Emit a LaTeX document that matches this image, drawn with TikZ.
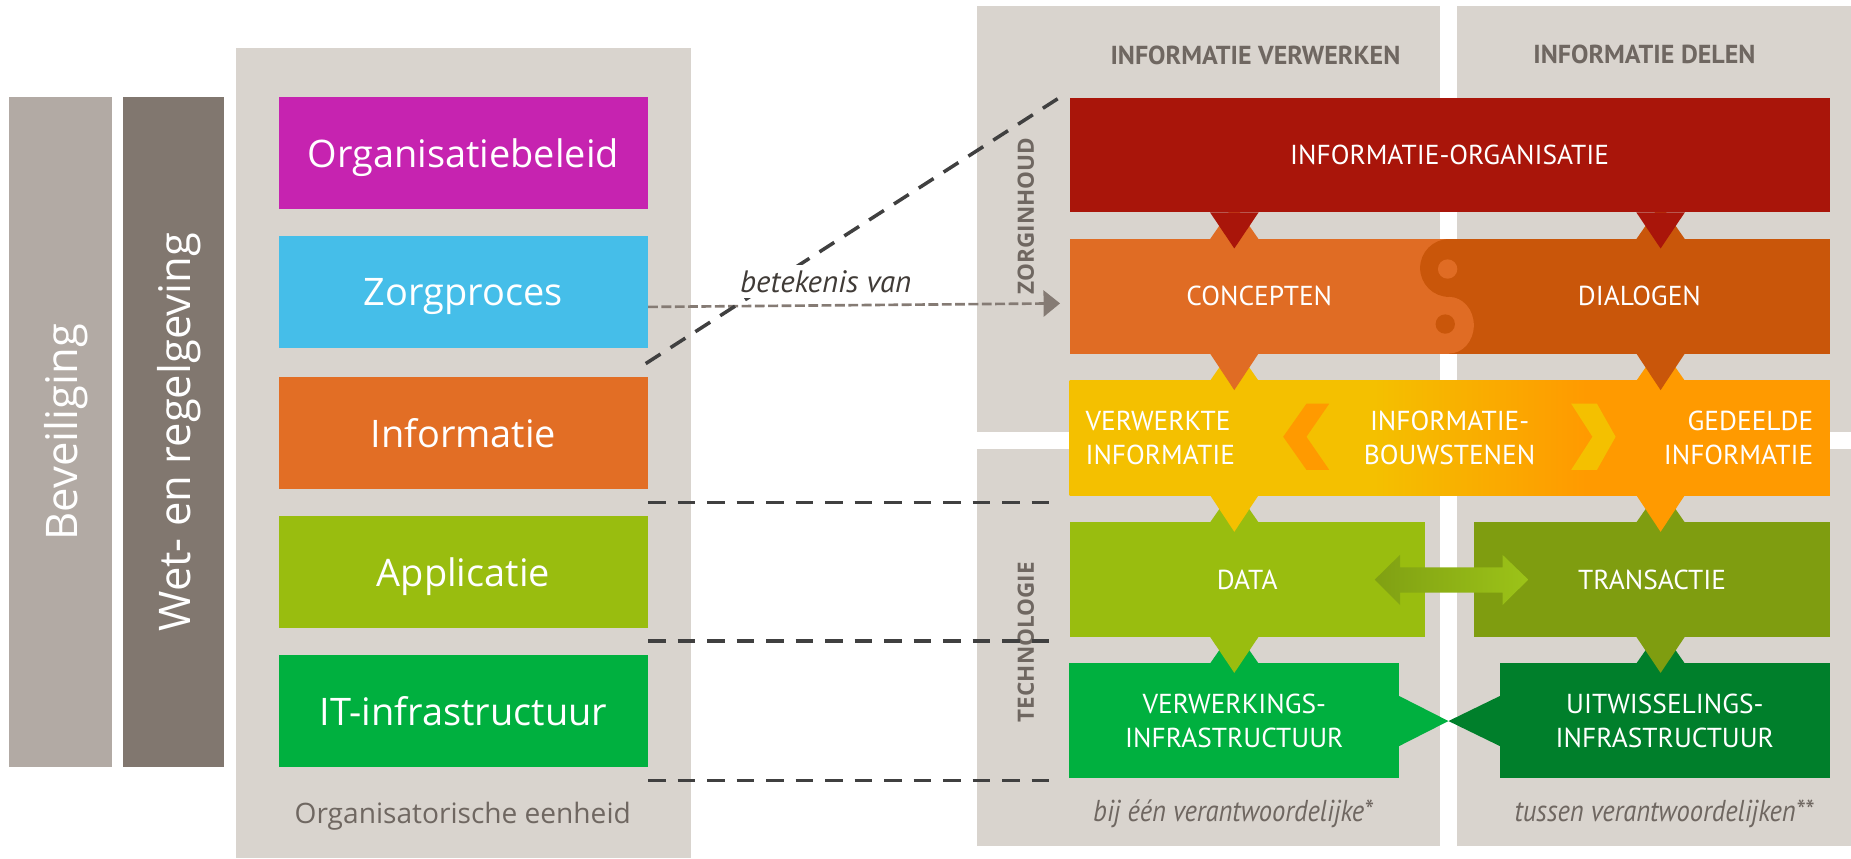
\documentclass[tikz,border=0pt]{standalone}
\usepackage{fontspec}
\setmainfont{Open Sans}
\newfontfamily\narrowfont{PT Sans}
\newfontfamily\narrowitfont{PT Sans}[FakeStretch=0.88]
\usetikzlibrary{positioning}
\usetikzlibrary{arrows.meta}
\usetikzlibrary{calc}

\definecolor{panelgray}{HTML}{D9D4CE}
\definecolor{barlight}{HTML}{B2AAA4}
\definecolor{bardark}{HTML}{81776F}
\definecolor{textgray}{HTML}{6F6761}
\definecolor{notegray}{HTML}{403B37}
\definecolor{beleidcol}{HTML}{C623B0}
\definecolor{procescol}{HTML}{45BEE9}
\definecolor{infocol}{HTML}{E26E25}
\definecolor{appcol}{HTML}{99BD0F}
\definecolor{infracol}{HTML}{00B03F}
\definecolor{redcol}{HTML}{A9150A}
\definecolor{orangeA}{HTML}{E06C24}
\definecolor{orangeB}{HTML}{C9560A}
\definecolor{yellowA}{HTML}{F4C000}
\definecolor{yellowB}{HTML}{FF9A00}
\definecolor{oliveA}{HTML}{99BD0F}
\definecolor{oliveB}{HTML}{7F9D10}
\definecolor{arrowA}{HTML}{80A013}
\definecolor{arrowB}{HTML}{9CC318}
\definecolor{greenA}{HTML}{00B03F}
\definecolor{greenB}{HTML}{007F2B}
\definecolor{dashcol}{HTML}{404040}
\definecolor{linkgray}{HTML}{857B74}

\pgfdeclarehorizontalshading{bouwshade}{100bp}{color(0bp)=(yellowA); color(45bp)=(yellowA); color(59bp)=(yellowB); color(100bp)=(yellowB)}

\newcommand{\pxl}{0.011805cm}
\tikzstyle{link} = [draw=linkgray, line width=0.75pt, dash pattern=on 2.8pt off 1pt,
-{Triangle[length=4.7pt,width=7.4pt]}]
\tikzstyle{connected} = [draw=dashcol, line width=1pt, dash pattern=on 5pt off 3.4pt]

\begin{document}
\begin{tikzpicture}[x=\pxl, y=-\pxl,
        panel/.style={fill=panelgray, inner sep=0pt, outer sep=0pt},
        side/.style={inner sep=0pt, outer sep=0pt, text=white, rotate=90, text depth=0pt,
            minimum width=568*\pxl, font=\fontsize{12.4}{14}\selectfont},
        layer/.style={inner sep=0pt, outer sep=0pt, text=white, text depth=0pt,
            minimum width=313*\pxl, minimum height=95*\pxl,
            font=\fontsize{10.8}{13}\selectfont},
        tile/.style={inner sep=0pt, outer sep=0pt, text=white, align=center,
            minimum height=97*\pxl, font=\narrowfont\fontsize{7.8}{9.8}\selectfont},
        tiletext/.style={inner sep=0pt, text=white,
            font=\narrowfont\fontsize{7.8}{9.8}\selectfont},
        header/.style={text=textgray, font=\narrowfont\bfseries\fontsize{7.4}{9}\selectfont},
        axis/.style={text=textgray, rotate=90, font=\bfseries\fontsize{6.4}{8}\selectfont},
        note/.style={text=textgray, font=\narrowitfont\itshape\fontsize{8.6}{10}\selectfont}]
        \useasboundingbox (0,0) rectangle (1568,727);
        %% Panels
        \node [panel, minimum width=385*\pxl, minimum height=686*\pxl] at (392.5,384) (orgpanel) {};
        \node [panel, minimum width=392*\pxl, minimum height=361*\pxl] at (1024,185.5) (verwerkentop) {};
        \node [panel, minimum width=334*\pxl, minimum height=361*\pxl] at (1401,185.5) (delentop) {};
        \node [panel, minimum width=392*\pxl, minimum height=337*\pxl] at (1024,548.5) (verwerkenbot) {};
        \node [panel, minimum width=334*\pxl, minimum height=337*\pxl] at (1401,548.5) (delenbot) {};
        %% Side bars
        \node [side, fill=barlight, minimum height=87*\pxl] at (51.5,366) (beveiliging) {Beveiliging};
        \node [side, fill=bardark, minimum height=86*\pxl] at (147,366) (wetgeving) {Wet- en regelgeving};
        %% Layers
        \node [layer, fill=beleidcol] at (392.5,129.5) (beleid) {Organisatiebeleid};
        \node [layer, fill=procescol] at (392.5,247.5) (proces) {Zorgproces};
        \node [layer, fill=infocol] at (392.5,366.5) (informatie) {Informatie};
        \node [layer, fill=appcol] at (392.5,484.5) (applicatie) {Applicatie};
        \node [layer, fill=infracol] at (392.5,602.5) (infra) {IT-infrastructuur};
        \node [text=textgray, font=\fontsize{8}{10}\selectfont] at (392,691) (eenheid) {Organisatorische eenheid};
        %% Headers
        \node [header] at (1063.5,47) (verwerken) {INFORMATIE VERWERKEN};
        \node [header] at (1393,46) (delen) {INFORMATIE DELEN};
        \node [axis] at (869,183) (zorginhoud) {ZORGINHOUD};
        \node [axis] at (869,544) (technologie) {TECHNOLOGIE};
        %% Pointers (under)
        \foreach \yb/\yt/\cl/\cr in {180/202.5/orangeA/orangeB, 299.5/322.5/yellowA/yellowB,
            419.5/442.5/oliveA/oliveB, 539.5/562/greenA/greenB} {
            \fill [\cl] (1025.1,\yt) -- (1045.6,\yt-29.5) -- (1066.1,\yt) -- cycle;
            \fill [\cr] (1386.2,\yt) -- (1406.7,\yt-29.5) -- (1427.2,\yt) -- cycle;
        }
        %% Tiles
        \node [tile, fill=redcol, minimum width=644*\pxl] at (1228,131.5) (infoorg) {INFORMATIE-ORGANISATIE};
        \node [tile, fill=orangeA, minimum width=321.5*\pxl] at (1066.75,251) (concepten) {CONCEPTEN};
        \node [tile, fill=orangeB, minimum width=322.5*\pxl] at (1388.75,251) (dialogen) {DIALOGEN};
        \fill [orangeB] (1227.5,202.5) .. controls (1214,202.5) and (1203,213.5) .. (1203,227)
            .. controls (1203,240.5) and (1214,251.5) .. (1227.5,251.5) -- cycle;
        \fill [orangeA] (1227.5,251.5) .. controls (1239.1,251.5) and (1248.5,262.2) .. (1248.5,275.5)
            .. controls (1248.5,288.8) and (1239.1,299.5) .. (1227.5,299.5) -- cycle;
        \fill [orangeA] (1226.3,227.9) circle [radius=8.2];
        \fill [orangeB] (1224.3,274.5) circle [radius=8.2];
        \node [tile, shade, shading=bouwshade, minimum width=644*\pxl] at (1228,371) (bouwstenen) {INFORMATIE-\\BOUWSTENEN};
        \fill [yellowB] (1106.7,342) -- (1126,342) -- (1106.7,370) -- (1126,398) -- (1106.7,398) -- (1087,370) -- cycle;
        \fill [yellowA] (1331,342) -- (1352.8,342) -- (1368.6,370) -- (1352.8,398) -- (1331,398) -- (1349,370) -- cycle;
        \node [tiletext, align=left, anchor=west] at (919,371) (verwerkt) {VERWERKTE\\INFORMATIE};
        \node [tiletext, align=right, anchor=east] at (1536.6,371) (gedeeld) {GEDEELDE\\INFORMATIE};
        \node [tile, fill=oliveA, minimum width=301*\pxl] at (1056.5,491) (data) {DATA};
        \node [tile, fill=oliveB, minimum width=301*\pxl] at (1399.5,491) (transactie) {TRANSACTIE};
        \node [tile, fill=greenA, minimum width=279.3*\pxl] at (1045.6,610.5) (verwerking) {VERWERKINGS-\\INFRASTRUCTUUR};
        \node [tile, fill=greenB, minimum width=279.5*\pxl] at (1410.3,610.5) (uitwisseling) {UITWISSELINGS-\\INFRASTRUCTUUR};
        %% Pointers (over)
        \foreach \yb/\yt/\cl/\cr in {180/202.5/redcol/redcol, 299.5/322.5/orangeA/orangeB,
            419.5/442.5/yellowA/yellowB, 539.5/562/oliveA/oliveB} {
            \fill [\cl] (1025.1,\yb) -- (1045.6,\yt+8) -- (1066.1,\yb) -- cycle;
            \fill [\cr] (1386.2,\yb) -- (1406.7,\yt+8) -- (1427.2,\yb) -- cycle;
        }
        %% Links between columns
        \shade [left color=arrowA, right color=arrowB] (1164.6,491) -- (1186,470) -- (1186,480.6)
            -- (1272.8,480.6) -- (1272.8,470) -- (1294.6,491) -- (1272.8,512.5) -- (1272.8,502)
            -- (1186,502) -- (1186,512.5) -- cycle;
        \fill [greenA] (verwerking.east |- 0,589.6) -- (1227,610.8) -- (verwerking.east |- 0,632) -- cycle;
        \fill [greenB] (uitwisseling.west |- 0,589.6) -- (1227,610.8) -- (uitwisseling.west |- 0,632) -- cycle;
        \node [note] at (1044.6,689) (bijeen) {bij één verantwoordelijke*};
        \node [note] at (1409.6,689) (tussen) {tussen verantwoordelijken**};
        %% Arcs
        \coordinate (zstart) at (549,260);
        \coordinate (zend) at (898,257);
        \path [link] (zstart) to (zend);
        \coordinate (d0a) at (547,308);
        \coordinate (d0b) at (897,83);
        \path [connected] (d0a) -- (d0b);
        \path (zstart) to node [pos=0.431, above=2pt, fill=white, inner sep=1.5pt, text=notegray,
            font=\narrowfont\itshape\fontsize{8.8}{10}\selectfont] (betekenis) {betekenis van} (zend);
        \foreach \yd [count=\i] in {425.5,543,661} {
            \coordinate (d\i a) at (549,\yd);
            \coordinate (d\i b) at (894,\yd);
            \path [connected] (d\i a) -- (d\i b);
        }
    \end{tikzpicture}
\end{document}
